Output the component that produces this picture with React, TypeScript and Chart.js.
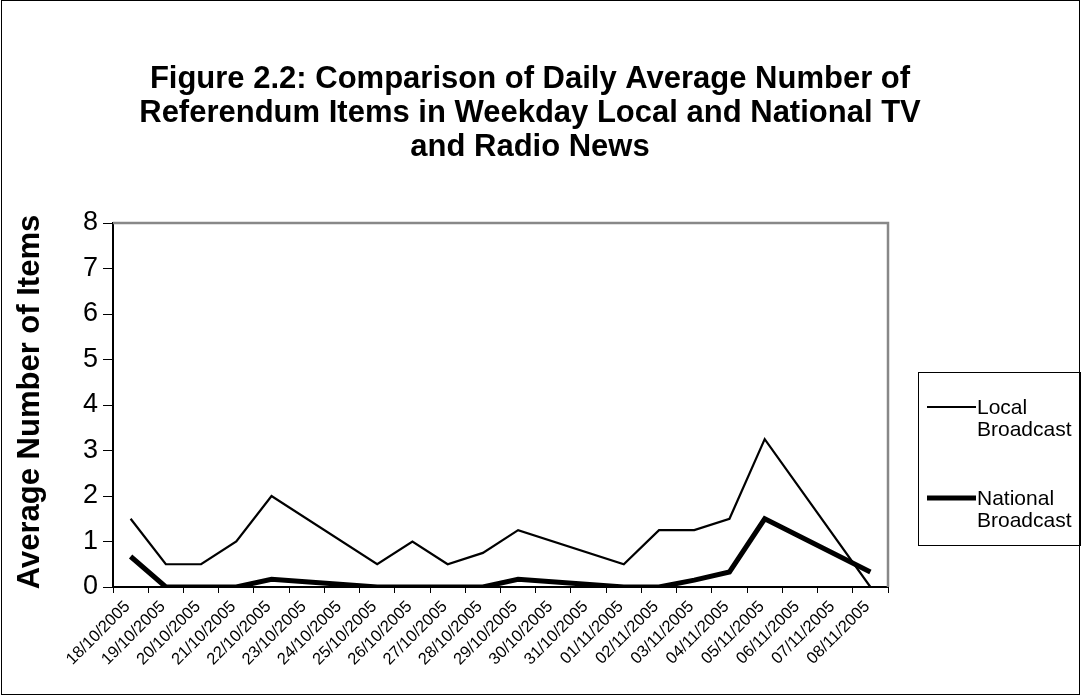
import React, { useEffect, useRef } from "react";
import { Chart, registerables } from "chart.js";

Chart.register(...registerables);

const FONT = "'Liberation Sans', Arial, Helvetica, sans-serif";

const titleLines = [
  "Figure 2.2: Comparison of Daily Average Number of",
  "Referendum Items in Weekday Local and National TV",
  "and Radio News",
];
const yAxisTitle = "Average Number of Items";

const dates = [
  "18/10/2005", "19/10/2005", "20/10/2005", "21/10/2005", "22/10/2005",
  "23/10/2005", "24/10/2005", "25/10/2005", "26/10/2005", "27/10/2005",
  "28/10/2005", "29/10/2005", "30/10/2005", "31/10/2005", "01/11/2005",
  "02/11/2005", "03/11/2005", "04/11/2005", "05/11/2005", "06/11/2005",
  "07/11/2005", "08/11/2005",
];

const localBroadcast = [
  1.5, 0.5, 0.5, 1, 2, null, null, 0.5, 1, 0.5, 0.75,
  1.25, null, null, 0.5, 1.25, 1.25, 1.5, 3.25, null, null, 0,
];
const nationalBroadcast = [
  0.67, 0, 0, 0, 0.17, null, null, 0, 0, 0, 0,
  0.17, null, null, 0, 0, 0.15, 0.33, 1.5, null, null, 0.33,
];

const seriesNames = ["Local Broadcast", "National Broadcast"];
const legendLines = [["Local", "Broadcast"], ["National", "Broadcast"]];
const seriesWidths = [2.2, 5];

const decorPlugin = {
  id: "decor",
  beforeDatasetsDraw(chart: any) {
    const { ctx, chartArea } = chart;
    ctx.save();
    ctx.strokeStyle = "#888888";
    ctx.lineWidth = 2.5;
    ctx.beginPath();
    ctx.moveTo(chartArea.left, chartArea.top);
    ctx.lineTo(chartArea.right, chartArea.top);
    ctx.lineTo(chartArea.right, chartArea.bottom);
    ctx.stroke();
    ctx.restore();
  },
  afterDraw(chart: any) {
    const { ctx, chartArea } = chart;
    ctx.save();
    // outer border
    ctx.strokeStyle = "#000";
    ctx.lineWidth = 1;
    ctx.strokeRect(1.5, 0.5, 1078, 694);

    // title
    ctx.fillStyle = "#000";
    ctx.textAlign = "center";
    ctx.textBaseline = "middle";
    ctx.font = `bold 31px ${FONT}`;
    titleLines.forEach((t, i) => ctx.fillText(t, 530, 79 + i * 34));

    // y axis title
    ctx.save();
    ctx.translate(30, (chartArea.top + chartArea.bottom) / 2 - 3);
    ctx.rotate(-Math.PI / 2);
    ctx.font = `bold 31px ${FONT}`;
    ctx.fillText(yAxisTitle, 0, 0);
    ctx.restore();

    // legend
    ctx.strokeStyle = "#000";
    ctx.lineWidth = 1;
    ctx.strokeRect(918.5, 372.5, 162, 173);
    ctx.font = `21px ${FONT}`;
    ctx.textAlign = "left";
    const ys = [407, 498];
    chart.data.datasets.forEach((ds: any, i: number) => {
      ctx.strokeStyle = ds.borderColor;
      ctx.lineWidth = ds.borderWidth;
      ctx.beginPath();
      ctx.moveTo(927, ys[i]);
      ctx.lineTo(976, ys[i]);
      ctx.stroke();
      ctx.fillStyle = "#000";
      legendLines[i].forEach((l, j) => ctx.fillText(l, 977, ys[i] + 1 + j * 22));
    });
    ctx.restore();
  },
};

export default function App() {
  const ref = useRef<HTMLCanvasElement>(null);
  useEffect(() => {
    document.body.style.margin = "0";
    const chart = new Chart(ref.current!, {
      type: "line",
      data: {
        labels: dates,
        datasets: [
          {
            label: seriesNames[0],
            data: localBroadcast,
            borderColor: "#000",
            borderWidth: seriesWidths[0],
            pointRadius: 0,
            spanGaps: true,
            tension: 0,
          },
          {
            label: seriesNames[1],
            data: nationalBroadcast,
            borderColor: "#000",
            borderWidth: seriesWidths[1],
            pointRadius: 0,
            spanGaps: true,
            tension: 0,
          },
        ],
      },
      options: {
        responsive: false,
        animation: false,
        layout: { padding: { top: 223, right: 193, left: 0, bottom: 0 } },
        plugins: {
          legend: { display: false },
          title: { display: false },
          tooltip: { enabled: false },
        },
        scales: {
          x: {
            type: "category",
            offset: true,
            grid: {
              offset: true,
              drawOnChartArea: false,
              drawTicks: true,
              tickLength: 6,
              color: "#000",
              lineWidth: 1,
            },
            border: { color: "#000", width: 2 },
            ticks: {
              minRotation: 45,
              maxRotation: 45,
              autoSkip: false,
              color: "#000",
              padding: 4,
              labelOffset: -3,
              font: { family: FONT, size: 16.5 },
            },
            afterFit: (s: any) => {
              s.height = 109;
            },
          },
          y: {
            min: 0,
            max: 8,
            ticks: {
              stepSize: 1,
              color: "#000",
              padding: 5,
              font: { family: FONT, size: 27 },
            },
            grid: {
              drawOnChartArea: false,
              tickLength: 10,
              color: "#000",
            },
            border: { color: "#000", width: 2 },
            afterFit: (s: any) => {
              s.width = 113;
            },
          },
        },
      },
      plugins: [decorPlugin],
    });
    return () => chart.destroy();
  }, []);
  return (
    <div style={{ width: 1081, height: 696, background: "#fff" }}>
      <canvas ref={ref} width={1081} height={696} style={{ display: "block" }} />
    </div>
  );
}
